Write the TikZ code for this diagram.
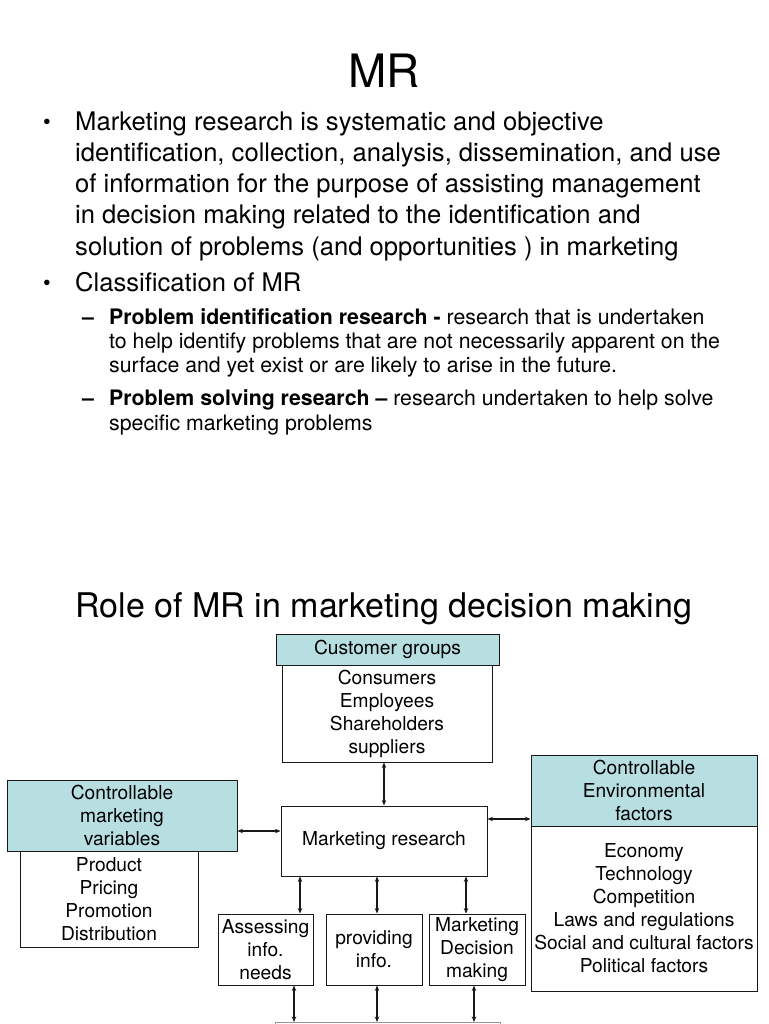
\documentclass[tikz,border=0pt]{standalone}
\usepackage{fontspec}
\setmainfont{TeX Gyre Heros}
\usetikzlibrary{arrows.meta}
\definecolor{hdr}{RGB}{183,222,224}
\definecolor{ink}{RGB}{25,25,25}
\definecolor{grayline}{RGB}{150,150,150}
\begin{document}
\begin{tikzpicture}[x=1pt,y=-1pt,
  bigtxt/.style={inner sep=0pt, anchor=base west, font=\fontsize{25.6}{31}\selectfont},
  subtxt/.style={inner sep=0pt, anchor=base west, font=\fontsize{21.3}{24}\selectfont},
  boxbase/.style={draw=ink, line width=1pt, inner sep=0pt, align=center, font=\fontsize{19.2}{23}\selectfont},
  hbox/.style={boxbase, fill=hdr},
  wbox/.style={boxbase, fill=white},
  conn/.style={{Stealth[length=5.5pt,width=4.5pt]}-{Stealth[length=5.5pt,width=4.5pt]}, line width=1.2pt, draw=ink}]
\clip (0,0) rectangle (768,1024);
\fill[white] (0,0) rectangle (768,1024);

% titles
\node[inner sep=0pt, anchor=base, font=\fontsize{46}{50}\selectfont] (title) at (384,88) {MR};
\node[inner sep=0pt, anchor=base, font=\fontsize{34}{40}\selectfont] (role) at (384,617) {Role of MR in marketing decision making};

% bullet 1
\node[inner sep=0pt, anchor=base, font=\fontsize{22}{24}\selectfont] (b1) at (47,130) {\textbullet};
\node[bigtxt] (l1) at (75,131) {Marketing research is systematic and objective};
\node[bigtxt] (l2) at (75,162) {identification, collection, analysis, dissemination, and use};
\node[bigtxt] (l3) at (75,193) {of information for the purpose of assisting management};
\node[bigtxt] (l4) at (75,224) {in decision making related to the identification and};
\node[bigtxt] (l5) at (75,255) {solution of problems (and opportunities ) in marketing};
% bullet 2
\node[inner sep=0pt, anchor=base, font=\fontsize{22}{24}\selectfont] (b2) at (47,290) {\textbullet};
\node[bigtxt] (l6) at (75,291) {Classification of MR};

% sub items
\node[subtxt] (d1) at (82,324) {\textbf{–}};
\node[subtxt] (s1) at (109,324) {\textbf{Problem identification research -} research that is undertaken};
\node[subtxt] (s2) at (109,348) {to help identify problems that are not necessarily apparent on the};
\node[subtxt] (s3) at (109,372) {surface and yet exist or are likely to arise in the future.};
\node[subtxt] (d2) at (82,405) {\textbf{–}};
\node[subtxt] (s4) at (109,405) {\textbf{Problem solving research –} research undertaken to help solve};
\node[subtxt] (s5) at (109,430) {specific marketing problems};

% diagram boxes
\node[wbox, minimum width=210pt, minimum height=97pt] (cb) at (387,713.5) {Consumers\\Employees\\Shareholders\\suppliers};
\node[hbox, minimum width=223pt, minimum height=31pt] (ch) at (387.5,649.5) {Customer groups};

\node[wbox, minimum width=206pt, minimum height=70pt] (mr) at (384,841) {Marketing research};

\node[wbox, minimum width=178pt, minimum height=96pt] (lb) at (109,899) {Product\\Pricing\\Promotion\\Distribution};
\node[hbox, minimum width=230pt, minimum height=71pt] (lh) at (122,815.5) {Controllable\\marketing\\ variables};

\node[wbox, minimum width=226pt, minimum height=165pt] (rb) at (644,908.5) {Economy\\Technology\\Competition\\Laws and regulations\\Social and cultural factors\\Political factors};
\node[hbox, minimum width=226pt, minimum height=71pt] (rh) at (644,790.5) {Controllable\\Environmental\\ factors};

\node[wbox, minimum width=95pt, minimum height=71pt] (as) at (265.5,949.5) {Assessing\\info.\\needs};
\node[wbox, minimum width=96pt, minimum height=71pt] (pi) at (374,949.5) {providing\\info.};
\node[wbox, minimum width=96pt, minimum height=71pt] (md) at (477,949.5) {Marketing\\Decision\\making};

\node[draw=grayline, line width=1pt, fill=white, minimum width=225pt, minimum height=60pt, anchor=north, inner sep=0pt] (bb) at (387.5,1022) {};

% helper x positions
\coordinate (x384) at (384,0);
\coordinate (x300) at (300,0);
\coordinate (x377) at (377,0);
\coordinate (x466) at (466,0);
\coordinate (x294) at (294,0);
\coordinate (x474) at (474,0);
\coordinate (y831) at (0,831);
\coordinate (y819) at (0,819);

% connectors
\draw[conn] (cb.south -| x384) -- (mr.north -| x384);
\draw[conn] (lh.east |- y831) -- (mr.west |- y831);
\draw[conn] (mr.east |- y819) -- (rh.west |- y819);
\draw[conn] (mr.south -| x300) -- (as.north -| x300);
\draw[conn] (mr.south -| x377) -- (pi.north -| x377);
\draw[conn] (mr.south -| x466) -- (md.north -| x466);
\draw[conn] (as.south -| x294) -- (bb.north -| x294);
\draw[conn] (pi.south -| x377) -- (bb.north -| x377);
\draw[conn] (md.south -| x474) -- (bb.north -| x474);
\end{tikzpicture}
\end{document}
